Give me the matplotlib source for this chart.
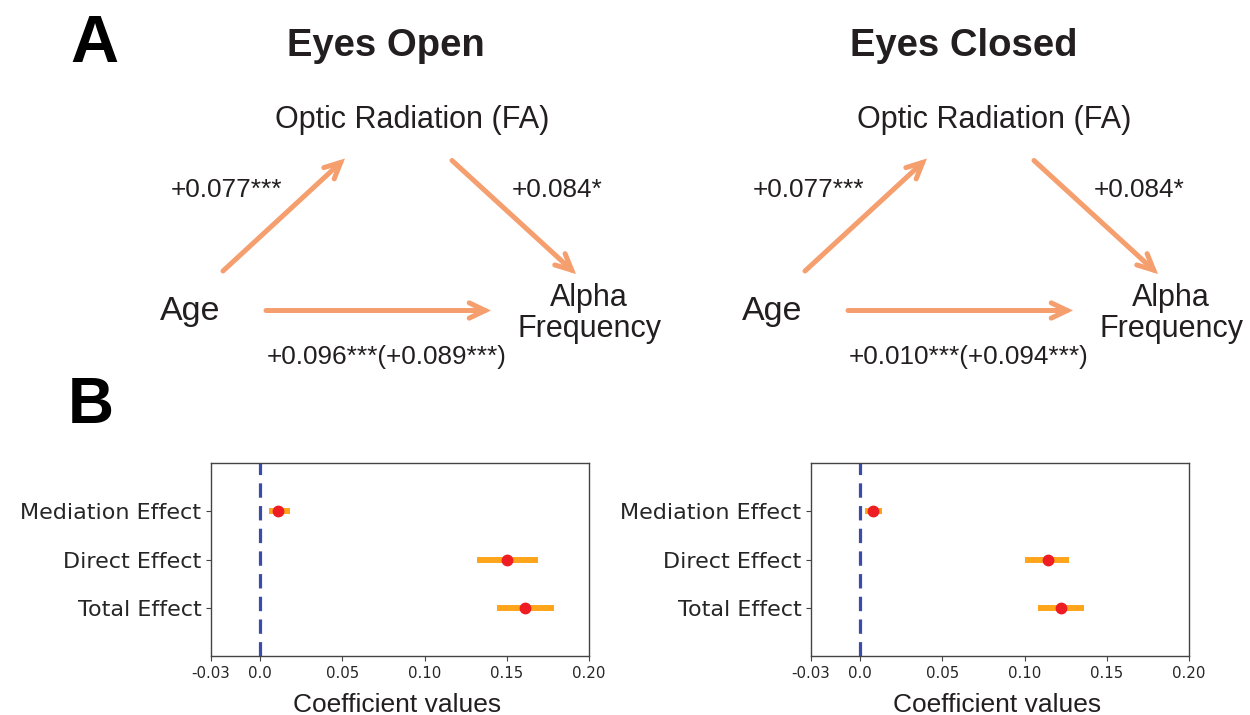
import numpy as np
import matplotlib
matplotlib.use("Agg")
import matplotlib.pyplot as plt
from matplotlib.patches import FancyArrowPatch

# effect estimates with their confidence bounds
effects = ["Mediation Effect", "Direct Effect", "Total Effect"]
open_coef = [0.011, 0.150, 0.161]
open_low = [0.005, 0.132, 0.144]
open_high = [0.018, 0.169, 0.179]
closed_coef = [0.008, 0.114, 0.122]
closed_low = [0.003, 0.100, 0.108]
closed_high = [0.013, 0.127, 0.136]

xticks = [-0.03, 0.0, 0.05, 0.10, 0.15, 0.20]
xtick_labels = ["-0.03", "0.0", "0.05", "0.10", "0.15", "0.20"]

# path coefficients: age->FA, FA->alpha, age->alpha (total in brackets)
panel_titles = ["Eyes Open", "Eyes Closed"]
path_a = ["+0.077***", "+0.077***"]
path_b = ["+0.084*", "+0.084*"]
path_c = ["+0.096***(+0.089***)", "+0.010***(+0.094***)"]

W, H = 1250, 715
ARROW = "#f59e6e"
INK = "#231f20"
SANS = "Liberation Sans"

fig = plt.figure(figsize=(W / 100, H / 100), dpi=100)

# overlay in pixel units for the path diagrams
ov = fig.add_axes([0, 0, 1, 1])
ov.set_xlim(0, W)
ov.set_ylim(H, 0)
ov.axis("off")

ov.text(94, 61.5, "A", fontsize=48, fontweight="bold", family=SANS,
        color="black", ha="center", va="baseline")
ov.text(91, 423, "B", fontsize=46, fontweight="bold", family=SANS,
        color="black", ha="center", va="baseline")

title_x = [386, 964]
offsets = [0, 582]
for i in range(2):
    dx = offsets[i]
    ov.text(title_x[i], 56.5, panel_titles[i], fontsize=27.5, fontweight="bold",
            family=SANS, color=INK, ha="center", va="baseline")
    ov.text(412 + dx, 128, "Optic Radiation (FA)", fontsize=22, family=SANS,
            color=INK, ha="center", va="baseline")
    ov.text(190.5 + dx, 320, "Age", fontsize=24.5, family=SANS,
            color=INK, ha="center", va="baseline")
    ov.text(589 + dx, 306, "Alpha", fontsize=22, family=SANS,
            color=INK, ha="center", va="baseline")
    ov.text(589 + dx, 337, "Frequency", fontsize=22, family=SANS,
            color=INK, ha="center", va="baseline")
    ov.text(226 + dx, 197, path_a[i], fontsize=18.8, family=SANS,
            color=INK, ha="center", va="baseline")
    ov.text(557 + dx, 197, path_b[i], fontsize=18.8, family=SANS,
            color=INK, ha="center", va="baseline")
    ov.text(387 + dx, 364, path_c[i], fontsize=18.8, family=SANS,
            color=INK, ha="center", va="baseline")

    segs = [((223, 271), (345, 158.5)),
            ((452, 160.5), (576, 274)),
            ((266, 310.5), (491, 310.5))]
    for (x0, y0), (x1, y1) in segs:
        arr = FancyArrowPatch((x0 + dx, y0), (x1 + dx, y1),
                              arrowstyle="->,head_length=1.15,head_width=0.55",
                              mutation_scale=10, lw=3.6, color=ARROW,
                              capstyle="round", joinstyle="miter",
                              shrinkA=0, shrinkB=0)
        ov.add_patch(arr)


def effect_panel(ax, coef, low, high):
    ypos = np.arange(len(effects))[::-1]
    ax.axvline(0, color="#3a4ca8", lw=2.3, dashes=(4.5, 2.6), zorder=1)
    ax.hlines(ypos, low, high, color="#ffa51c", lw=4.3, zorder=2)
    ax.plot(coef, ypos, "o", color="#ee1d23", ms=7.5, mec="#ee1d23", zorder=3)
    ax.set_xlim(-0.03, 0.20)
    ax.set_ylim(-1, 3)
    ax.set_yticks(ypos)
    ax.set_yticklabels(effects, fontsize=16, color="#262626")
    ax.set_xticks(xticks)
    ax.set_xticklabels(xtick_labels, fontsize=10.8, color="#262626")
    ax.tick_params(colors="#444444", labelcolor="#262626")
    for sp in ax.spines.values():
        sp.set_color("#444444")
        sp.set_linewidth(1.0)


axes_left = [211, 811]
for i, (c, lo, hi) in enumerate([(open_coef, open_low, open_high),
                                  (closed_coef, closed_low, closed_high)]):
    ax = fig.add_axes([axes_left[i] / W, (H - 656) / H, 378 / W, 193 / H])
    effect_panel(ax, c, lo, hi)
    ov.text(axes_left[i] + 186, 712, "Coefficient values", fontsize=19,
            family=SANS, color=INK, ha="center", va="baseline")

fig.savefig("out.png", dpi=100)
